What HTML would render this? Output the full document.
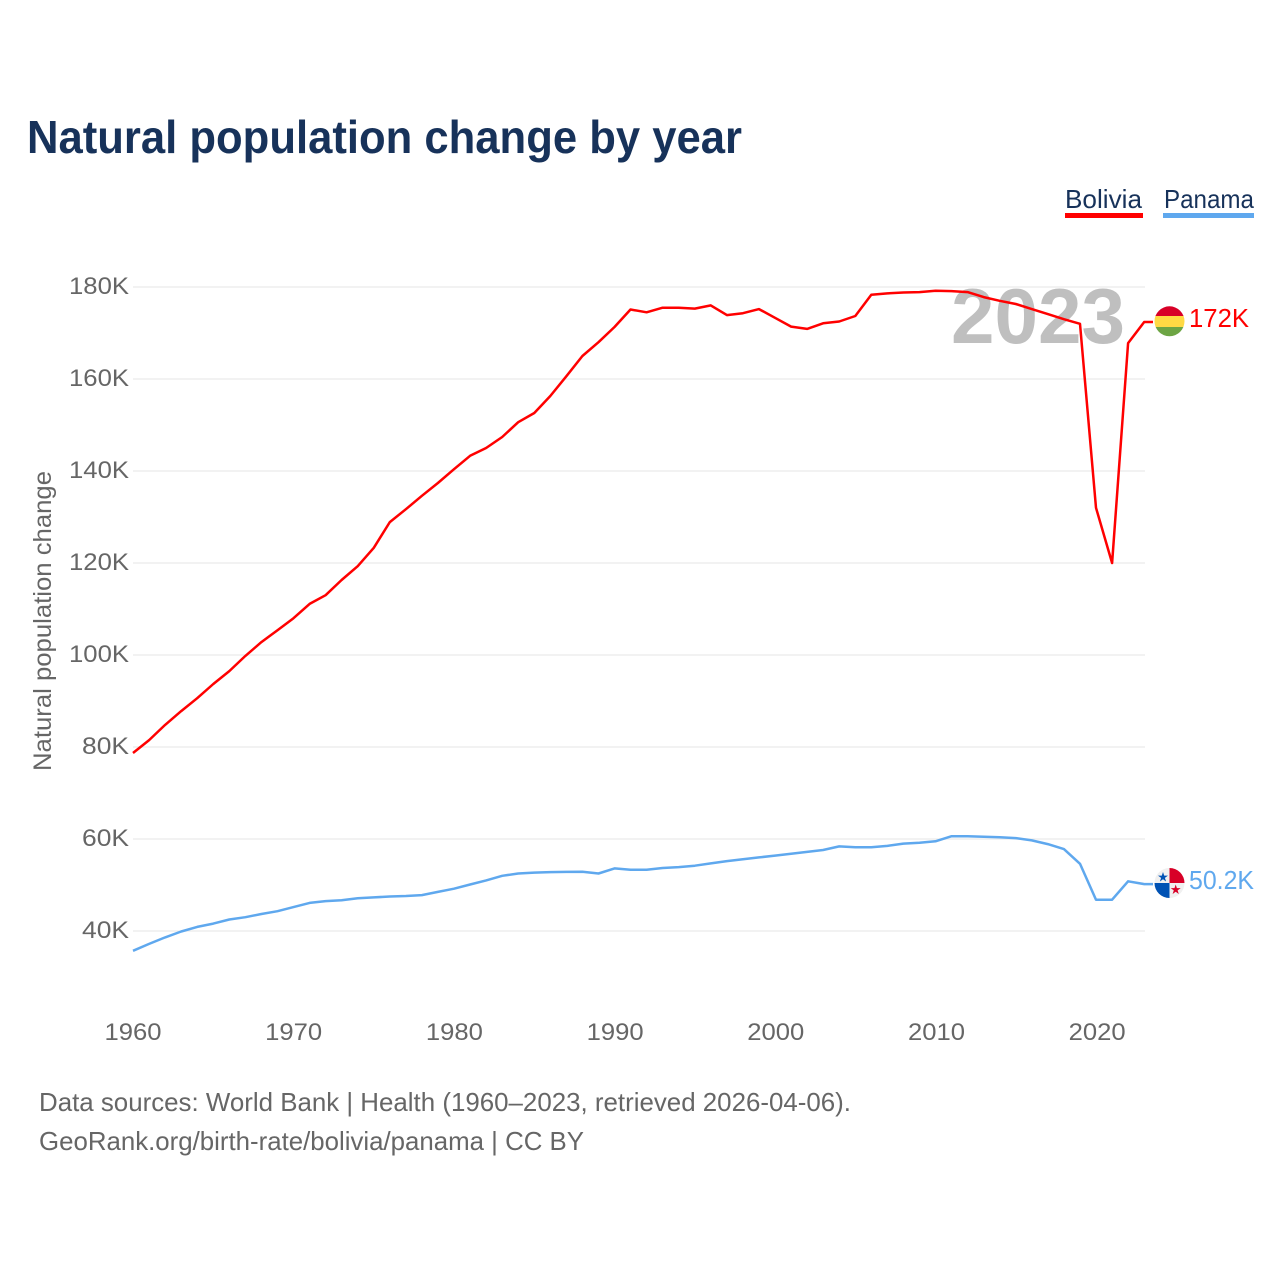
<!DOCTYPE html>
<html lang="en">
<head>
<meta charset="utf-8">
<title>Natural population change by year</title>
<style>
html,body{margin:0;padding:0;background:#fff;}
svg{display:block;font-family:"Liberation Sans",sans-serif;}
</style>
</head>
<body>
<svg id="chart" width="1280" height="1280" viewBox="0 0 1280 1280" xmlns="http://www.w3.org/2000/svg">
  <text x="27" y="153" font-size="46" font-weight="700" fill="#17325a" textLength="715" lengthAdjust="spacingAndGlyphs">Natural population change by year</text>
  <g>
    <g>
      <text x="1065" y="208" font-size="26" fill="#17325a" textLength="77" lengthAdjust="spacingAndGlyphs">Bolivia</text>
      <rect x="1065" y="213" width="78" height="5" fill="#ff0000"></rect>
    </g>
    <g>
      <text x="1164" y="208" font-size="26" fill="#17325a" textLength="90" lengthAdjust="spacingAndGlyphs">Panama</text>
      <rect x="1163" y="213" width="91" height="5" fill="#5fa8ee"></rect>
    </g>
  </g>
  <g id="grid"></g>
  <text x="951" y="343" font-size="78" font-weight="700" fill="#bfbfbf" textLength="174" lengthAdjust="spacingAndGlyphs">2023</text>
  <g id="yticks"></g>
  <g id="xticks"></g>
  <text transform="translate(51,771) rotate(-90)" font-size="25" fill="#666666" textLength="300" lengthAdjust="spacingAndGlyphs">Natural population change</text>
  <g id="series"></g>

  <g>
    <clipPath id="clip-bo"><circle cx="1169.5" cy="321.3" r="15"></circle></clipPath>
    <g clip-path="url(#clip-bo)">
      <rect x="1154" y="306" width="31" height="10.5" fill="#d80027"></rect>
      <rect x="1154" y="316" width="31" height="11" fill="#ffda44"></rect>
      <rect x="1154" y="327" width="31" height="11" fill="#6da544"></rect>
    </g>
  </g>
  <text id="label-bo" x="1189" y="327" font-size="26" fill="#ff0000" textLength="60" lengthAdjust="spacingAndGlyphs">172K</text>

  <g>
    <clipPath id="clip-pa"><circle cx="1169.5" cy="883" r="15"></circle></clipPath>
    <g clip-path="url(#clip-pa)">
      <rect x="1154" y="867" width="31" height="32" fill="#f0f0f0"></rect>
      <rect x="1169.5" y="867" width="16" height="16" fill="#d80027"></rect>
      <rect x="1154" y="883" width="15.5" height="16" fill="#0052b4"></rect>
      <polygon points="1163,872 1164.2,875.6 1168,875.6 1164.9,877.9 1166.1,881.5 1163,879.3 1159.9,881.5 1161.1,877.9 1158,875.6 1161.8,875.6" fill="#0052b4"></polygon>
      <polygon points="1175.7,884.5 1176.9,888.1 1180.7,888.1 1177.6,890.4 1178.8,894 1175.7,891.8 1172.6,894 1173.8,890.4 1170.7,888.1 1174.5,888.1" fill="#d80027"></polygon>
    </g>
  </g>
  <text id="label-pa" x="1189" y="889" font-size="26" fill="#5fa8ee" textLength="65" lengthAdjust="spacingAndGlyphs">50.2K</text>

  <text x="39" y="1111" font-size="26" fill="#666666" textLength="812" lengthAdjust="spacingAndGlyphs">Data sources: World Bank | Health (1960–2023, retrieved 2026-04-06).</text>
  <text x="39" y="1150" font-size="26" fill="#666666" textLength="545" lengthAdjust="spacingAndGlyphs">GeoRank.org/birth-rate/bolivia/panama | CC BY</text>
</svg>
<script>
const startYear = 1960;
const xTickYears = [1960, 1970, 1980, 1990, 2000, 2010, 2020];
const yTickValues = [40, 60, 80, 100, 120, 140, 160, 180];
const boliviaValues = [78.7,81.5,84.8,87.8,90.6,93.7,96.5,99.8,102.8,105.4,108,111.1,113,116.3,119.3,123.3,128.9,131.7,134.6,137.4,140.4,143.3,145,147.4,150.6,152.6,156.3,160.6,165,168,171.3,175.1,174.5,175.5,175.5,175.3,176,173.9,174.3,175.2,173.3,171.4,170.9,172.1,172.5,173.7,178.3,178.6,178.8,178.9,179.2,179.1,178.9,177.8,177,176.3,175.2,174.1,173,172,132,120,167.8,172.4];
const panamaValues = [35.7,37.2,38.6,39.9,40.9,41.6,42.5,43,43.7,44.3,45.2,46.1,46.5,46.7,47.1,47.3,47.5,47.6,47.8,48.5,49.2,50.1,51,52,52.5,52.7,52.8,52.85,52.9,52.5,53.6,53.3,53.3,53.7,53.9,54.2,54.7,55.2,55.6,56,56.4,56.8,57.2,57.6,58.4,58.2,58.2,58.5,59,59.2,59.5,60.6,60.6,60.5,60.4,60.2,59.7,58.9,57.8,54.6,46.8,46.8,50.8,50.2];

const NS = 'http://www.w3.org/2000/svg';
const xScale = year => 133 + (year - 1960) * 16.05;
const xTickScale = year => 133 + (year - 1960) * 16.07;
const yScale = value => 931 - (value - 40) * 4.6;
const plotRight = 1145;
const connectorEnd = 1153;

function make(tag, parent, attrs, text) {
  const el = document.createElementNS(NS, tag);
  Object.keys(attrs).forEach(k => el.setAttribute(k, attrs[k]));
  if (text !== undefined) el.textContent = text;
  parent.appendChild(el);
  return el;
}

const gridGroup = document.getElementById('grid');
const yGroup = document.getElementById('yticks');
const xGroup = document.getElementById('xticks');
const seriesGroup = document.getElementById('series');

yTickValues.forEach(v => {
  const line = make('line', gridGroup, {x1: 133, x2: plotRight, y1: yScale(v), y2: yScale(v), stroke: '#eeeeee', 'stroke-width': 1.6});
  
  
  const label = make('text', yGroup, {x: 129, y: yScale(v) + 7, 'text-anchor': 'end', 'font-size': 24, fill: '#666666', textLength: v >= 100 ? 60 : 47, lengthAdjust: 'spacingAndGlyphs'}, v + 'K');
  
  
});

xTickYears.forEach(y => {
  const label = make('text', xGroup, {x: xTickScale(y), y: 1040, 'text-anchor': 'middle', 'font-size': 24, fill: '#666666', textLength: 57, lengthAdjust: 'spacingAndGlyphs'}, String(y));
  
  
});

function drawSeries(values, color) {
  const pts = values.map((v, i) => xScale(startYear + i).toFixed(1) + ',' + yScale(v).toFixed(1));
  const last = values[values.length - 1];
  pts.push(connectorEnd + ',' + yScale(last).toFixed(1));
  return make('polyline', seriesGroup, {points: pts.join(' '), fill: 'none', stroke: color, 'stroke-width': 2.5, 'stroke-linejoin': 'round'});
}

const panamaLine = drawSeries(panamaValues, '#5fa8ee');


const boliviaLine = drawSeries(boliviaValues, '#ff0000');


</script>
</body>
</html>
